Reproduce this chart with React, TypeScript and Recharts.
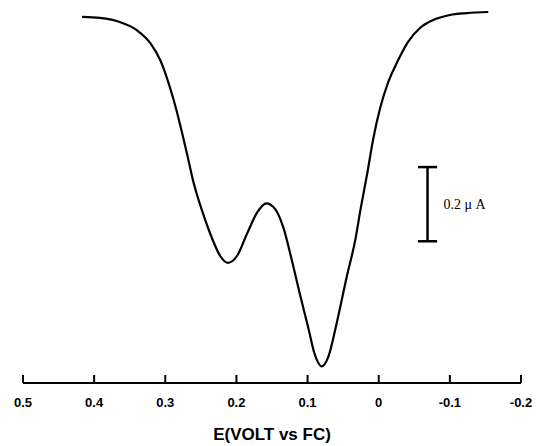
import { Label, Line, LineChart, ReferenceLine, XAxis, YAxis } from "recharts";

// potential (V vs Fc), left to right
const potential = [
  0.417, 0.392, 0.364, 0.34, 0.321, 0.307, 0.298, 0.289, 0.279, 0.269, 0.261,
  0.247, 0.233, 0.223, 0.212, 0.199, 0.185, 0.171, 0.158, 0.146, 0.134, 0.122,
  0.111, 0.099, 0.09, 0.08, 0.071, 0.059, 0.045, 0.033, 0.025, 0.016, 0.008,
  -0.002, -0.013, -0.026, -0.041, -0.058, -0.076, -0.1, -0.124, -0.154,
];

// current (uA, relative to the baseline)
const current = [
  -0.013, -0.016, -0.027, -0.049, -0.084, -0.13, -0.176, -0.232, -0.305, -0.386,
  -0.454, -0.543, -0.616, -0.657, -0.676, -0.657, -0.597, -0.541, -0.516, -0.53,
  -0.581, -0.67, -0.759, -0.851, -0.922, -0.955, -0.93, -0.838, -0.714, -0.615,
  -0.526, -0.434, -0.345, -0.259, -0.191, -0.135, -0.081, -0.043, -0.022, -0.008,
  -0.003, 0,
];

const xTicks = [0.5, 0.4, 0.3, 0.2, 0.1, 0, -0.1, -0.2];

// 0.2 uA scale bar
const barE = -0.0686;
const barTop = -0.418;
const barSpan = 0.2;
const barCap = 0.0135;

const data = potential.map((e, i) => ({ e, i: current[i] }));

function AxisTick({ x, y, payload }: any) {
  return (
    <g>
      <line x1={x} y1={y - 8} x2={x} y2={y} stroke="#000" strokeWidth={2} />
      <text
        x={x}
        y={y + 24}
        textAnchor="middle"
        fontFamily="'Liberation Sans', Arial, sans-serif"
        fontWeight="bold"
        fontSize={13}
        fill="#000"
      >
        {String(payload.value)}
      </text>
    </g>
  );
}

export default function App() {
  const barBottom = barTop - barSpan;
  return (
    <div style={{ width: 539, height: 446 }}>
      <style>{"body{margin:0}"}</style>
      <LineChart
        width={539}
        height={446}
        data={data}
        margin={{ top: 12, right: 18, bottom: 0, left: 23 }}
      >
        <XAxis
          dataKey="e"
          type="number"
          domain={[-0.2, 0.5]}
          ticks={xTicks}
          reversed
          height={63}
          tickSize={0}
          tickMargin={0}
          tickLine={false}
          tick={<AxisTick />}
          axisLine={{ stroke: "#000", strokeWidth: 2 }}
        >
          <Label
            value="E(VOLT vs FC)"
            position="insideBottom"
            offset={6}
            fontFamily="'Liberation Sans', Arial, sans-serif"
            fontWeight="bold"
            fontSize={17}
            fill="#000"
          />
        </XAxis>
        <YAxis type="number" domain={[-1, 0]} hide />
        <Line
          type="monotone"
          dataKey="i"
          stroke="#000"
          strokeWidth={2.2}
          dot={false}
          isAnimationActive={false}
        />
        <ReferenceLine
          segment={[
            { x: barE, y: barTop },
            { x: barE, y: barBottom },
          ]}
          stroke="#000"
          strokeWidth={2.5}
        >
          <Label
            value="0.2 μ A"
            position="right"
            offset={16}
            fontFamily="'Liberation Serif', 'Times New Roman', serif"
            fontSize={14}
            fill="#000"
          />
        </ReferenceLine>
        <ReferenceLine
          segment={[
            { x: barE + barCap, y: barTop },
            { x: barE - barCap, y: barTop },
          ]}
          stroke="#000"
          strokeWidth={2.5}
        />
        <ReferenceLine
          segment={[
            { x: barE + barCap, y: barBottom },
            { x: barE - barCap, y: barBottom },
          ]}
          stroke="#000"
          strokeWidth={2.5}
        />
      </LineChart>
    </div>
  );
}
